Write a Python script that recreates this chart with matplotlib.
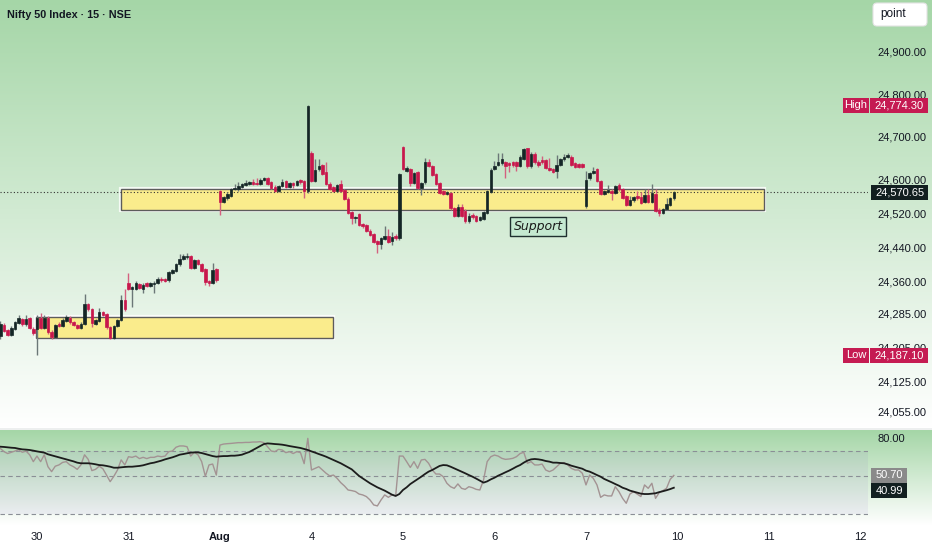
import numpy as np
import matplotlib.pyplot as plt
from matplotlib.patches import Rectangle, FancyBboxPatch
from matplotlib.transforms import IdentityTransform

plt.rcParams['font.family'] = ['Liberation Sans', 'DejaVu Sans']

##############################################################################################################################
# data (15 min bars, Nifty 50), first 10 bars are the tail of the previous session

day_ticks = [0, 25, 50, 75, 100, 125, 150, 175, 200, 225]
day_labels = ['30', '31', 'Aug', '4', '5', '6', '7', '10', '11', '12']

price_ticks = [24900, 24800, 24700, 24600, 24520, 24440, 24360, 24285, 24205, 24125, 24055]

opens = [
    24232, 24259, 24246, 24236, 24250, 24264, 24272, 24260, 24274, 24250,
    24249, 24276, 24252, 24275, 24243, 24231, 24262, 24256, 24268, 24276, 24265, 24259, 24252, 24262, 24307,
    24295, 24262, 24269, 24288, 24284, 24253, 24229, 24256, 24270, 24316,
    24358, 24342, 24343, 24354, 24344, 24356, 24350, 24354, 24358, 24367, 24366, 24363, 24381, 24386, 24401,
    24413, 24418, 24420, 24393, 24410, 24401, 24389, 24362, 24358, 24389,
    24574, 24547, 24556, 24561, 24578, 24578, 24583, 24588, 24590, 24593, 24592, 24589, 24599, 24603, 24594,
    24583, 24574, 24585, 24596, 24583, 24592, 24588, 24598, 24596, 24572,
    24662, 24597, 24624, 24633, 24617, 24590, 24582, 24574, 24590, 24575, 24555, 24523, 24510, 24518, 24495,
    24493, 24480, 24472, 24455, 24449, 24461, 24467, 24455, 24468, 24462,
    24676, 24620, 24625, 24592, 24618, 24580, 24593, 24640, 24632, 24613, 24592, 24572, 24566, 24568, 24533,
    24514, 24535, 24527, 24502, 24516, 24514, 24505, 24507, 24522, 24571,
    24625, 24634, 24638, 24640, 24638, 24641, 24640, 24632, 24649, 24673, 24631, 24661, 24642, 24645, 24645,
    24628, 24625, 24619, 24634, 24647, 24654, 24654, 24638, 24636, 24636,
    24537, 24603, 24615, 24625, 24597, 24567, 24571, 24574, 24568, 24588, 24577, 24561, 24540, 24551, 24561,
    24558, 24547, 24564, 24547, 24565, 24529, 24522, 24531, 24541, 24556,
]
highs = [
    24268, 24264, 24250, 24256, 24268, 24282, 24276, 24283, 24278, 24253,
    24283, 24286, 24283, 24279, 24246, 24262, 24266, 24274, 24283, 24280, 24268, 24262, 24265, 24331, 24311,
    24299, 24273, 24298, 24291, 24287, 24256, 24259, 24273, 24329, 24343,
    24381, 24350, 24362, 24357, 24356, 24359, 24359, 24361, 24372, 24370, 24369, 24385, 24391, 24405, 24424,
    24426, 24427, 24423, 24413, 24413, 24404, 24392, 24365, 24404, 24392,
    24576, 24561, 24570, 24581, 24590, 24593, 24592, 24600, 24596, 24601, 24603, 24603, 24607, 24606, 24597,
    24586, 24588, 24602, 24599, 24595, 24594, 24599, 24601, 24599, 24774.3,
    24668, 24647, 24647, 24636, 24640, 24593, 24585, 24590, 24598, 24578, 24558, 24526, 24515, 24521, 24498,
    24496, 24483, 24475, 24458, 24465, 24490, 24484, 24476, 24471, 24615,
    24679, 24632, 24628, 24618, 24621, 24595, 24650, 24649, 24635, 24616, 24595, 24575, 24573, 24571, 24536,
    24543, 24543, 24530, 24521, 24521, 24517, 24515, 24527, 24575, 24626,
    24643, 24662, 24663, 24643, 24641, 24644, 24643, 24658, 24675, 24675, 24664, 24664, 24645, 24656, 24648,
    24651, 24628, 24657, 24651, 24660, 24662, 24657, 24641, 24639, 24639,
    24621, 24618, 24630, 24628, 24600, 24576, 24588, 24577, 24587, 24591, 24580, 24564, 24561, 24561, 24572,
    24570, 24578, 24578, 24589, 24578, 24532, 24534, 24557, 24560, 24574,
]
lows = [
    24226, 24242, 24233, 24233, 24247, 24260, 24256, 24257, 24248, 24235,
    24187.1, 24249, 24248, 24238, 24226, 24228, 24253, 24253, 24265, 24262, 24255, 24248, 24249, 24258, 24292,
    24254, 24259, 24266, 24280, 24250, 24226, 24226, 24253, 24267, 24292,
    24340, 24300, 24340, 24343, 24333, 24347, 24347, 24334, 24355, 24360, 24359, 24360, 24378, 24383, 24398,
    24410, 24414, 24390, 24390, 24399, 24382, 24353, 24351, 24355, 24360,
    24516, 24544, 24553, 24558, 24575, 24572, 24580, 24585, 24587, 24587, 24586, 24586, 24596, 24587, 24578,
    24570, 24571, 24582, 24580, 24580, 24581, 24585, 24590, 24556, 24569,
    24593, 24594, 24621, 24610, 24586, 24575, 24571, 24571, 24571, 24552, 24519, 24496, 24499, 24491, 24487,
    24476, 24467, 24451, 24428, 24436, 24458, 24451, 24446, 24459, 24459,
    24622, 24617, 24584, 24589, 24577, 24563, 24590, 24629, 24608, 24586, 24565, 24563, 24563, 24529, 24511,
    24511, 24511, 24499, 24499, 24508, 24500, 24502, 24504, 24519, 24568,
    24622, 24631, 24635, 24603, 24617, 24630, 24619, 24629, 24646, 24628, 24628, 24637, 24630, 24637, 24624,
    24620, 24615, 24604, 24631, 24644, 24651, 24631, 24627, 24626, 24627,
    24532, 24600, 24612, 24594, 24563, 24564, 24568, 24553, 24565, 24574, 24554, 24537, 24537, 24548, 24552,
    24542, 24544, 24544, 24544, 24523, 24515, 24519, 24528, 24538, 24553,
]
closes = [
    24262, 24245, 24236, 24252, 24265, 24274, 24260, 24272, 24251, 24239,
    24276, 24252, 24275, 24241, 24231, 24259, 24256, 24270, 24277, 24265, 24258, 24251, 24262, 24308, 24295,
    24263, 24270, 24288, 24283, 24253, 24229, 24256, 24270, 24317, 24296,
    24344, 24348, 24358, 24346, 24353, 24350, 24356, 24358, 24367, 24363, 24362, 24382, 24388, 24402, 24414,
    24420, 24421, 24393, 24410, 24402, 24385, 24360, 24357, 24387, 24363,
    24548, 24558, 24567, 24578, 24581, 24584, 24589, 24591, 24593, 24590, 24589, 24600, 24604, 24590, 24581,
    24573, 24585, 24595, 24583, 24592, 24588, 24596, 24593, 24572, 24773,
    24596, 24623, 24632, 24613, 24589, 24578, 24574, 24587, 24574, 24555, 24522, 24510, 24513, 24494, 24490,
    24479, 24470, 24454, 24449, 24462, 24467, 24454, 24465, 24462, 24612,
    24625, 24628, 24592, 24615, 24580, 24592, 24642, 24632, 24611, 24589, 24568, 24566, 24570, 24532, 24514,
    24535, 24514, 24502, 24514, 24511, 24503, 24512, 24524, 24572, 24623,
    24632, 24642, 24647, 24632, 24633, 24633, 24632, 24654, 24672, 24631, 24661, 24640, 24633, 24640, 24627,
    24623, 24618, 24635, 24648, 24654, 24657, 24634, 24630, 24629, 24630,
    24599, 24615, 24620, 24597, 24566, 24573, 24575, 24568, 24584, 24577, 24557, 24540, 24552, 24558, 24556,
    24545, 24564, 24547, 24568, 24526, 24521, 24531, 24543, 24557, 24570.65,
]

rsi = [
    72, 69.5, 68, 69, 70, 71, 69, 70, 67, 61.6,
    66, 61.6, 67, 57.6, 53.7, 58, 59, 61, 61.6, 59, 57.6, 55.5, 59, 67, 63.4,
    54.5, 55.5, 58, 56, 51, 45.8, 50, 55, 63, 59,
    65.5, 65, 66, 64, 65, 64, 65, 65, 66, 65.5, 66, 69.5, 70, 73, 74,
    74, 73.4, 66, 69, 67, 61.6, 50, 59, 59.7, 51,
    74.7, 75.5, 75.8, 76, 76.3, 76.6, 76.6, 76.8, 76.8, 77.1, 77.1, 77.4, 76.6, 73.4, 70,
    69.5, 71.3, 70.8, 68.7, 69.5, 68, 69.5, 68.7, 60, 80,
    55, 56.3, 57.6, 55, 52.4, 50.3, 51, 48.4, 45, 42.4, 39.2, 38.7, 38, 36, 35.3,
    34, 31.3, 27.4, 26.6, 31.3, 35.3, 33.4, 35.3, 34.5, 66,
    66, 61.6, 57, 61.6, 56.3, 62.9, 63.4, 60.3, 55, 51.8, 51.8, 49.7, 44.5, 41.8, 40.5,
    44, 40.5, 39.7, 41.8, 41, 39.7, 39.2, 47, 61.6, 65.5,
    66.8, 66, 64.2, 63.4, 63.7, 64.2, 65.5, 68, 69, 60.3, 61.6, 59, 59, 59.7, 55,
    53.7, 55, 57.6, 60.3, 60.8, 59, 56.3, 55, 55, 52.4,
    43.2, 51, 48.4, 43.2, 33.4, 35.3, 34.5, 34.5, 41.8, 37.9, 32.6, 28.7, 36, 37.9, 36,
    34, 43.2, 40.5, 44.5, 32.6, 37.1, 38.7, 40.5, 47.6, 50.70,
]
rsi_ma = [
    73.4, 73.2, 72.9, 72.6, 72.4, 71.8, 71.3, 71.1, 70.8, 70.3,
    69.7, 69.2, 68.7, 67.4, 66.6, 65.8, 65, 64.2, 63.4, 62.6, 61.8, 60.8, 60.3, 60.3, 60.3,
    60, 59.5, 58.9, 58.7, 58.2, 57.6, 56.8, 56.8, 57.1, 57.4,
    57.6, 57.6, 57.9, 58.2, 58.7, 59.5, 60.3, 60.8, 61.6, 62.4, 63.4, 64.2, 65, 66, 67.1,
    67.6, 68.2, 68.7, 68.9, 68.9, 68.4, 67.6, 66.8, 66, 65.5,
    65.8, 66, 66, 66.3, 66.3, 66.6, 67.1, 68.2, 69.2, 70.8, 72.4, 73.9, 75.5, 76, 75.8,
    75.5, 75.3, 75, 74.5, 73.9, 73.4, 72.9, 72.4, 71.6, 70.8,
    69.7, 68.7, 67.6, 66.6, 65.5, 64.2, 62.9, 61.6, 60.3, 58.7, 57.1, 55.5, 52.9, 50.3, 48.4,
    46.6, 44.5, 42.9, 41.3, 40, 38.7, 37.1, 35.5, 34.5, 36,
    39.2, 41.3, 43.9, 45.8, 47.6, 49.7, 51.8, 53.7, 55, 56.6, 58.2, 58.9, 58.7, 57.6, 56.3,
    55, 53.7, 52.4, 51, 49.7, 48.2, 46.6, 45, 46, 47.6,
    48.9, 50.5, 51.8, 53.2, 54.5, 56, 57.6, 58.9, 60.8, 62.4, 63.4, 63.7, 63.4, 62.9, 62.1,
    61.6, 60.8, 60.8, 60.5, 60.3, 59.5, 58.4, 57.6, 56.8, 56,
    54.5, 53.7, 52.4, 51, 49.7, 47.9, 46.6, 45.3, 43.9, 42.6, 41, 40, 38.7, 37.9, 37.1,
    36.3, 36, 36, 36.3, 36.6, 37.5, 38.2, 39.0, 39.9, 40.99,
]

# (first bar, last bar, low, high) of the drawn demand zones
zones = [(22.95, 198.6, 24528, 24577), (-0.3, 80.9, 24229, 24278)]
support_at = (136.9, 24490)

##############################################################################################################################
# plot data

opens, highs, lows, closes = map(np.array, (opens, highs, lows, closes))
bars = np.arange(len(opens)) - 10

UP = '#152626'
DOWN = '#c8174c'
TXT = '#131722'
W, H = 932, 550

fig = plt.figure(figsize=(W / 100, H / 100), dpi=100)

# background gradients (price pane, separator, oscillator pane)
green = np.array([165, 214, 167]) / 255
grad = np.ones((H, 1, 3))
t = np.linspace(0, 1, 428)[:, None]
grad[:428, 0] = green * (1 - t) + t
grad[428:430, 0] = [0.93, 0.94, 0.94]
t = np.linspace(0, 1, 96)[:, None]
grad[430:526, 0] = green * (1 - t) + t
bg = fig.add_axes([0, 0, 1, 1], zorder=-5)
bg.imshow(grad, aspect='auto', extent=[0, 1, 0, 1])
bg.axis('off')

ax = fig.add_axes([0, (H - 428) / H, 868 / W, 428 / H], facecolor='none')
ax2 = fig.add_axes([0, (H - 522) / H, 868 / W, 92 / H], facecolor='none')

for a in (ax, ax2):
    for s in a.spines.values():
        s.set_visible(False)
    a.set_xlim(-10.1, 227.05)

# zones
for x0, x1, lo, hi in zones:
    ax.add_patch(Rectangle((x0, lo), x1 - x0, hi - lo, fc='none', ec='white', lw=3, alpha=0.8, zorder=1))
    ax.add_patch(Rectangle((x0, lo), x1 - x0, hi - lo, fc='#faec8c', ec='#5c5c5c', lw=1, zorder=2))

ax.axhline(closes[-1], color='#333333', ls=(0, (1, 2)), lw=0.8, zorder=3)

# candles
up = closes >= opens
body_lo = np.minimum(opens, closes)
body_h = np.abs(closes - opens)
ax.vlines(bars[up], lows[up], highs[up], color='#6b7777', lw=1, zorder=4)
ax.vlines(bars[~up], lows[~up], highs[~up], color='#d4607f', lw=1, zorder=4)
ax.bar(bars[up], body_h[up], 0.7, bottom=body_lo[up], color=UP, edgecolor=UP, lw=0.5, zorder=5)
ax.bar(bars[~up], body_h[~up], 0.7, bottom=body_lo[~up], color=DOWN, edgecolor=DOWN, lw=0.5, zorder=5)

ax.text(support_at[0], support_at[1], 'Support', family='DejaVu Sans', style='italic', fontsize=9,
        color='#1a1a1a', ha='center', va='center', zorder=6,
        bbox=dict(boxstyle='square,pad=0.25', fc='#c4e8d0', ec='#1f2f2f', lw=1))

ax.set_ylim(24016.7, 25021.4)
ax.yaxis.tick_right()
ax.set_yticks(price_ticks, ['{:,.2f}'.format(v) for v in price_ticks])
ax.set_xticks(day_ticks, [''] * len(day_ticks))
ax.tick_params(axis='y', length=0, pad=6.5, labelsize=8, labelcolor=TXT)
ax.tick_params(axis='x', length=0)

# oscillator pane
ax2.axhspan(20, 70, color='#7e57c2', alpha=0.08, lw=0)
for lvl in (70, 50, 20):
    ax2.axhline(lvl, color='#8a8f96', ls=(0, (4, 3)), lw=0.8)
ax2.plot(bars, rsi, color='#a39393', lw=1)
ax2.plot(bars, rsi_ma, color='#1c1c1c', lw=1.3)
ax2.set_ylim(13.9, 86.6)
ax2.yaxis.tick_right()
ax2.set_yticks([80], ['80.00'])
ax2.set_xticks(day_ticks, day_labels)
ax2.tick_params(axis='y', length=0, pad=6.5, labelsize=8, labelcolor=TXT)
ax2.tick_params(axis='x', length=0, pad=7, labelsize=8, labelcolor=TXT)
ax2.get_xticklabels()[2].set_fontweight('bold')

# title and right side tags
fig.text(7 / W, 1 - 15 / H, 'Nifty 50 Index · 15 · NSE', fontsize=7.8, weight='bold', color=TXT, va='center')

fig.add_artist(FancyBboxPatch((873, H - 26), 54, 23, boxstyle='round,pad=0,rounding_size=4',
                              fc='white', ec='#e3e3e3', lw=0.8, transform=IdentityTransform()))
fig.text(880, H - 14.5, 'point', fontsize=8.5, color=TXT, va='center', transform=IdentityTransform())


def tag(axis, value, text, x0, x1, fc, shift=0, name=None):
    y = axis.transData.transform((0, value))[1] + shift
    fig.add_artist(Rectangle((x0, y - 7.5), x1 - x0, 15, fc=fc, ec='none', transform=IdentityTransform(), zorder=5))
    fig.text((x0 + x1) / 2, y, text, fontsize=8, color='white', ha='center', va='center',
             transform=IdentityTransform(), zorder=6)
    if name:
        fig.add_artist(Rectangle((x0 - 27, y - 7.5), 26, 15, fc=fc, ec='none', transform=IdentityTransform(), zorder=5))
        fig.text(x0 - 14, y, name, fontsize=8, color='white', ha='center', va='center',
                 transform=IdentityTransform(), zorder=6)
    return y


tag(ax, highs.max(), '{:,.2f}'.format(highs.max()), 870, 928, '#c51b52', name='High')
tag(ax, lows.min(), '{:,.2f}'.format(lows.min()), 870, 928, '#c51b52', name='Low')
tag(ax, closes[-1], '{:,.2f}'.format(closes[-1]), 871, 928, '#121f20')
y_rsi = tag(ax2, rsi[-1], '{:.2f}'.format(rsi[-1]), 871, 907, '#8a8a8a')
y_ma = ax2.transData.transform((0, rsi_ma[-1]))[1]
tag(ax2, rsi_ma[-1], '{:.2f}'.format(rsi_ma[-1]), 871, 907, '#121f20', shift=min(0, (y_rsi - 15.5) - y_ma))

fig.savefig('out.png', dpi=100)
